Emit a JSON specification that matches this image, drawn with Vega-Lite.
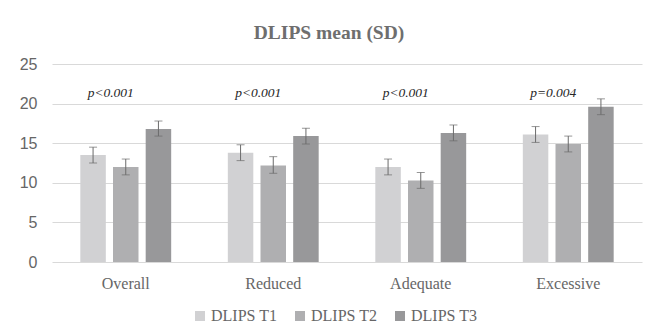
{
  "$schema": "https://vega.github.io/schema/vega-lite/v6.json",
  "width": 590,
  "height": 198,
  "autosize": "none",
  "padding": {"left": 52, "top": 64, "right": 12, "bottom": 71},
  "background": "white",
  "config": {
    "view": {"stroke": null},
    "font": "Liberation Serif",
    "axisY": {
      "title": null,
      "tickCount": 5,
      "labelOverlap": false,
      "domain": false,
      "ticks": false,
      "grid": true,
      "gridColor": "#d9d9d9",
      "gridWidth": 1,
      "labelFont": "Liberation Sans",
      "labelFontSize": 16,
      "labelColor": "#666666",
      "labelPadding": 15
    }
  },
  "title": {
    "text": "DLIPS mean (SD)",
    "font": "Liberation Serif",
    "fontSize": 19.5,
    "fontWeight": "bold",
    "color": "#6e6e6e",
    "baseline": "alphabetic",
    "offset": -2.5,
    "dx": -18,
    "anchor": "middle"
  },
  "datasets": {
    "bars": [
      {"group": "Overall", "series": "DLIPS T1", "mean": 13.5, "lo": 12.5, "hi": 14.5},
      {"group": "Overall", "series": "DLIPS T2", "mean": 12.0, "lo": 11.0, "hi": 13.0},
      {"group": "Overall", "series": "DLIPS T3", "mean": 16.8, "lo": 15.9, "hi": 17.8},
      {"group": "Reduced", "series": "DLIPS T1", "mean": 13.8, "lo": 12.8, "hi": 14.8},
      {"group": "Reduced", "series": "DLIPS T2", "mean": 12.2, "lo": 11.2, "hi": 13.3},
      {"group": "Reduced", "series": "DLIPS T3", "mean": 15.9, "lo": 14.9, "hi": 16.9},
      {"group": "Adequate", "series": "DLIPS T1", "mean": 12.0, "lo": 11.0, "hi": 13.0},
      {"group": "Adequate", "series": "DLIPS T2", "mean": 10.3, "lo": 9.3, "hi": 11.3},
      {"group": "Adequate", "series": "DLIPS T3", "mean": 16.3, "lo": 15.3, "hi": 17.3},
      {"group": "Excessive", "series": "DLIPS T1", "mean": 16.1, "lo": 15.1, "hi": 17.1},
      {"group": "Excessive", "series": "DLIPS T2", "mean": 14.9, "lo": 13.9, "hi": 15.9},
      {"group": "Excessive", "series": "DLIPS T3", "mean": 19.6, "lo": 18.6, "hi": 20.6}
    ],
    "pvals": [
      {"group": "Overall", "label": "p<0.001"},
      {"group": "Reduced", "label": "p<0.001"},
      {"group": "Adequate", "label": "p<0.001"},
      {"group": "Excessive", "label": "p=0.004"}
    ]
  },
  "encoding": {
    "x": {
      "field": "group",
      "type": "nominal",
      "sort": ["Overall", "Reduced", "Adequate", "Excessive"],
      "scale": {"paddingInner": 0.384, "paddingOuter": 0.192},
      "axis": {
        "title": null,
        "labelAngle": 0,
        "domain": false,
        "ticks": false,
        "labelFont": "Liberation Serif",
        "labelFontSize": 16,
        "labelColor": "#666666",
        "labelBaseline": "alphabetic",
        "labelPadding": 26
      }
    }
  },
  "layer": [
    {
      "data": {"name": "bars"},
      "mark": {"type": "bar"},
      "encoding": {
        "xOffset": {
          "field": "series",
          "type": "nominal",
          "scale": {"paddingInner": 0.22, "paddingOuter": 0}
        },
        "y": {
          "field": "mean",
          "type": "quantitative",
          "scale": {"domain": [0, 25], "nice": false}
        },
        "color": {
          "field": "series",
          "type": "nominal",
          "scale": {
            "domain": ["DLIPS T1", "DLIPS T2", "DLIPS T3"],
            "range": ["#d1d1d3", "#afafb1", "#98989a"]
          },
          "legend": {
            "title": null,
            "orient": "none",
            "direction": "horizontal",
            "legendX": 140,
            "legendY": 244,
            "symbolType": "square",
            "symbolSize": 100,
            "symbolStrokeWidth": 0,
            "labelFont": "Liberation Serif",
            "labelFontSize": 16,
            "labelColor": "#666666",
            "labelOffset": 3,
            "columnPadding": 14
          }
        }
      }
    },
    {
      "data": {"name": "bars"},
      "mark": {"type": "rule", "color": "#6b6b6b", "strokeWidth": 1},
      "encoding": {
        "xOffset": {"field": "series", "type": "nominal"},
        "y": {"field": "lo", "type": "quantitative"},
        "y2": {"field": "hi"}
      }
    },
    {
      "data": {"name": "bars"},
      "mark": {"type": "tick", "color": "#6b6b6b", "size": 8, "thickness": 1, "orient": "horizontal"},
      "encoding": {
        "xOffset": {"field": "series", "type": "nominal"},
        "y": {"field": "lo", "type": "quantitative"}
      }
    },
    {
      "data": {"name": "bars"},
      "mark": {"type": "tick", "color": "#6b6b6b", "size": 8, "thickness": 1, "orient": "horizontal"},
      "encoding": {
        "xOffset": {"field": "series", "type": "nominal"},
        "y": {"field": "hi", "type": "quantitative"}
      }
    },
    {
      "data": {"name": "pvals"},
      "mark": {
        "type": "text",
        "font": "Liberation Serif",
        "fontStyle": "italic",
        "fontSize": 13.5,
        "color": "#262626",
        "baseline": "alphabetic",
        "align": "center",
        "dx": -15
      },
      "encoding": {
        "y": {"datum": 20.8},
        "text": {"field": "label"}
      }
    }
  ]
}
